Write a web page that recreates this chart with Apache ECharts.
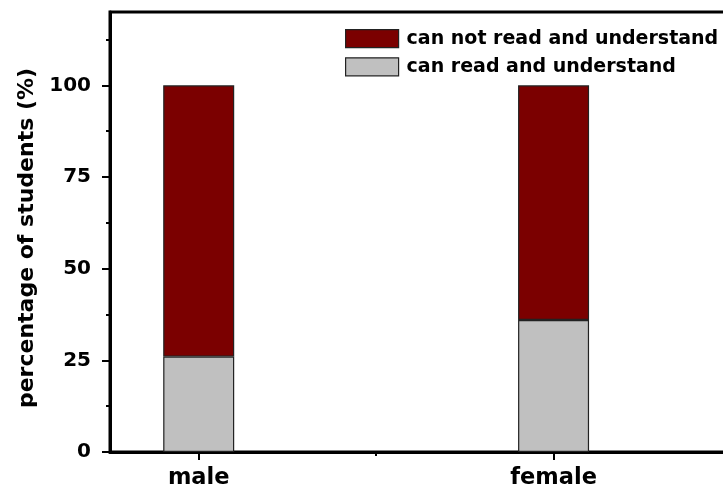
<!DOCTYPE html>
<html>
<head>
<meta charset="utf-8">
<script src="https://cdn.jsdelivr.net/npm/echarts@6/dist/echarts.min.js"></script>
<style>
html,body{margin:0;padding:0;background:#fff;}
#chart{width:723px;height:487px;}
</style>
</head>
<body>
<div id="chart"></div>
<script>
// ---- data ----
var categories = ['male', 'female'];
var categoryPositions = [1, 2];
var canRead = [26, 36];
var cannotRead = [74, 64];
var seriesNames = ['can not read and understand', 'can read and understand'];
var yMajorTicks = [0, 25, 50, 75, 100];
var yMinorTicks = [12.5, 37.5, 62.5, 87.5, 112.5];
var xMinorTicks = [1.5];

var FONT = '"DejaVu Sans", sans-serif';

// value first, position second (encoded below), so the value column is the stacked one
function pairs(xs, ys) { return xs.map(function (x, i) { return [ys[i], x]; }); }

var chart = echarts.init(document.getElementById('chart'), null, {renderer: 'canvas'});
chart.setOption({
  backgroundColor: '#ffffff',
  animation: false,
  grid: {
    left: 110, top: 12, bottom: 35, width: 621,
    containLabel: false, outerBoundsMode: 'none',
    show: true, borderColor: '#000', borderWidth: 3, backgroundColor: 'transparent'
  },
  legend: {
    orient: 'vertical',
    left: 340, top: 24,
    itemWidth: 53, itemHeight: 18, itemGap: 9,
    data: seriesNames,
    icon: 'rect',
    itemStyle: {borderColor: '#222', borderWidth: 1.2},
    textStyle: {fontFamily: FONT, fontWeight: 'bold', fontSize: 19, color: '#000', padding: [0, 0, 0, 3]}
  },
  xAxis: [{
    type: 'value', min: 0.75, max: 2.5, position: 'bottom',
    axisLine: {show: true, lineStyle: {color: '#000', width: 3}},
    axisTick: {show: true, customValues: categoryPositions, length: 8, lineStyle: {color: '#000', width: 2}},
    axisLabel: {
      show: true, customValues: categoryPositions, margin: 15,
      formatter: function (v) { var i = categoryPositions.indexOf(v); return i >= 0 ? categories[i] : ''; },
      fontFamily: FONT, fontWeight: 'bold', fontSize: 22.5, color: '#000'
    },
    splitLine: {show: false}
  }, {
    type: 'value', min: 0.75, max: 2.5, position: 'bottom', offset: 0,
    axisLine: {show: false},
    axisTick: {show: true, customValues: xMinorTicks, length: 4, lineStyle: {color: '#000', width: 2}},
    axisLabel: {show: false},
    splitLine: {show: false}
  }],
  yAxis: [{
    type: 'value', min: 0, max: 120, position: 'left',
    name: 'percentage of students (%)',
    nameLocation: 'middle', nameRotate: 90, nameGap: 67,
    nameTextStyle: {fontFamily: FONT, fontWeight: 'bold', fontSize: 22, color: '#000', padding: [0, 12, 0, 0]},
    axisLine: {show: true, lineStyle: {color: '#000', width: 3}},
    axisTick: {show: true, customValues: yMajorTicks, length: 8, lineStyle: {color: '#000', width: 2}},
    axisLabel: {
      show: true, customValues: yMajorTicks, margin: 19,
      fontFamily: FONT, fontWeight: 'bold', fontSize: 20, color: '#000'
    },
    splitLine: {show: false}
  }, {
    type: 'value', min: 0, max: 120, position: 'left', offset: 0,
    axisLine: {show: false},
    axisTick: {show: true, customValues: yMinorTicks, length: 4, lineStyle: {color: '#000', width: 2}},
    axisLabel: {show: false},
    splitLine: {show: false}
  }],
  series: [{
    name: seriesNames[1], type: 'bar', stack: 'total',
    xAxisIndex: 0, yAxisIndex: 0, barWidth: 71,
    encode: {x: 1, y: 0},
    itemStyle: {color: '#c0c0c0', borderColor: '#222', borderWidth: 1.2},
    data: pairs(categoryPositions, canRead)
  }, {
    name: seriesNames[0], type: 'bar', stack: 'total',
    xAxisIndex: 0, yAxisIndex: 0, barWidth: 71,
    encode: {x: 1, y: 0},
    itemStyle: {color: '#7b0000', borderColor: '#222', borderWidth: 1.2},
    data: pairs(categoryPositions, cannotRead)
  }]
});
</script>
</body>
</html>
